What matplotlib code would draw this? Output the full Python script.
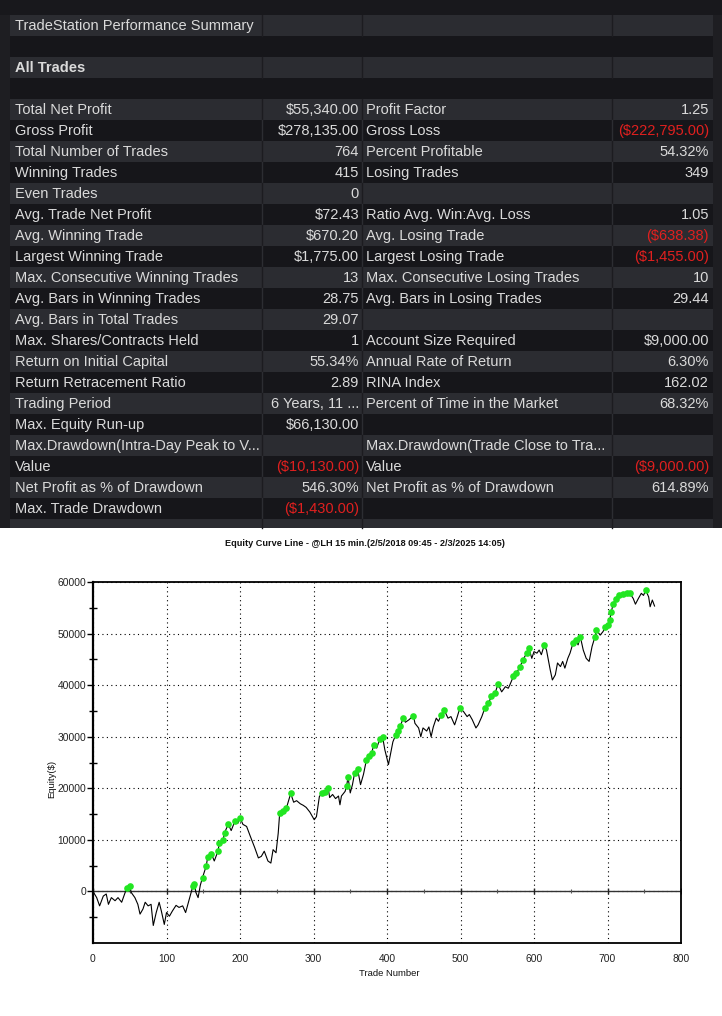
import numpy as np
import matplotlib
matplotlib.use("Agg")
import matplotlib.pyplot as plt
from matplotlib.patches import Rectangle

# ---------------- data ----------------
title_text = "TradeStation Performance Summary"
section_text = "All Trades"

labels_left = ["Total Net Profit", "Gross Profit", "Total Number of Trades", "Winning Trades",
               "Even Trades", "Avg. Trade Net Profit", "Avg. Winning Trade", "Largest Winning Trade",
               "Max. Consecutive Winning Trades", "Avg. Bars in Winning Trades",
               "Avg. Bars in Total Trades", "Max. Shares/Contracts Held", "Return on Initial Capital",
               "Return Retracement Ratio", "Trading Period", "Max. Equity Run-up",
               "Max.Drawdown(Intra-Day Peak to V...", "Value", "Net Profit as % of Drawdown",
               "Max. Trade Drawdown"]
values_left = ["$55,340.00", "$278,135.00", "764", "415", "0", "$72.43", "$670.20", "$1,775.00",
               "13", "28.75", "29.07", "1", "55.34%", "2.89", "6 Years, 11 ...", "$66,130.00",
               "", "($10,130.00)", "546.30%", "($1,430.00)"]
labels_right = ["Profit Factor", "Gross Loss", "Percent Profitable", "Losing Trades", "",
                "Ratio Avg. Win:Avg. Loss", "Avg. Losing Trade", "Largest Losing Trade",
                "Max. Consecutive Losing Trades", "Avg. Bars in Losing Trades", "",
                "Account Size Required", "Annual Rate of Return", "RINA Index",
                "Percent of Time in the Market", "", "Max.Drawdown(Trade Close to Tra...",
                "Value", "Net Profit as % of Drawdown", ""]
values_right = ["1.25", "($222,795.00)", "54.32%", "349", "", "1.05", "($638.38)", "($1,455.00)",
                "10", "29.44", "", "$9,000.00", "6.30%", "162.02", "68.32%", "", "",
                "($9,000.00)", "614.89%", ""]

chart_title = "Equity Curve Line - @LH 15 min.(2/5/2018 09:45 - 2/3/2025 14:05)"

trade_no = [0, 5, 9, 14, 18, 21, 25, 30, 34, 39, 43, 46, 50, 52, 57, 61, 64, 68, 71, 75, 79, 82, 86,
            90, 93, 97, 100, 104, 108, 113, 117, 122, 126, 131, 136, 138, 140, 143, 146, 149, 154,
            156, 161, 165, 170, 172, 177, 179, 184, 188, 193, 197, 200, 204, 209, 214, 220, 225,
            229, 233, 238, 242, 245, 249, 252, 254, 258, 263, 269, 273, 277, 282, 286, 290, 295,
            301, 304, 308, 311, 315, 320, 322, 326, 330, 334, 336, 338, 343, 345, 347, 350, 353,
            356, 360, 364, 368, 372, 376, 379, 382, 386, 390, 394, 397, 402, 405, 408, 412, 415,
            418, 422, 425, 430, 436, 438, 443, 446, 449, 454, 457, 460, 463, 467, 470, 474, 478,
            483, 487, 492, 495, 499, 504, 509, 512, 516, 521, 524, 529, 533, 538, 542, 547, 551,
            556, 561, 565, 567, 572, 576, 581, 585, 590, 593, 597, 600, 604, 607, 610, 614, 617,
            622, 625, 629, 632, 636, 639, 642, 646, 649, 653, 657, 660, 663, 667, 671, 675, 679,
            683, 685, 690, 694, 697, 701, 703, 705, 708, 711, 715, 718, 721, 726, 730, 735, 738,
            742, 746, 749, 752, 756, 758, 761, 764]
equity = [0, -1200, -2800, -900, -500, -2500, -1200, -1800, -1200, -2100, -500, 700, 1000, -200,
          -1200, -2500, -4400, -3400, -2100, -2800, -2500, -6600, -4100, -2100, -3800, -6400,
          -4100, -4800, -3800, -2700, -3100, -2800, -4100, -1500, 1100, 1400, -200, -1200, 1200,
          2700, 4900, 6600, 7300, 5900, 7800, 9400, 10000, 11400, 13000, 11800, 13600, 13200,
          14300, 13000, 12600, 10700, 8500, 6500, 6800, 7800, 5900, 5500, 8100, 7500, 11300,
          15200, 15500, 16100, 19000, 17300, 17600, 17000, 16700, 16300, 15400, 13900, 14500,
          18400, 19000, 19300, 20000, 18200, 18800, 18000, 18500, 16800, 18500, 19400, 20400,
          22200, 19100, 20700, 23000, 23700, 20700, 22700, 25500, 26200, 26800, 28400, 27800,
          29500, 30000, 27500, 24600, 26800, 29000, 30400, 31100, 32000, 33600, 32800, 33300,
          34100, 32600, 31700, 30000, 31700, 31100, 31900, 30000, 31900, 33600, 33000, 34300,
          35100, 33600, 33900, 32300, 33600, 35500, 34900, 33900, 34300, 33300, 31700, 32300,
          33900, 35500, 36500, 37800, 38400, 40200, 38700, 39700, 39400, 40000, 41700, 42300,
          43600, 44900, 46200, 47200, 45200, 46500, 46200, 46800, 45900, 47800, 46800, 43000,
          41000, 42000, 44300, 43600, 44600, 43300, 45200, 46200, 48100, 48700, 47800, 49400,
          46800, 45200, 44600, 47500, 49400, 50700, 49700, 50400, 51300, 51700, 52600, 54200,
          55800, 56800, 57500, 57100, 57700, 57800, 57900, 56800, 55700, 56800, 57800, 57400,
          58400, 57100, 55200, 56500, 55340]

x_ticks = [0, 100, 200, 300, 400, 500, 600, 700, 800]
y_ticks = [0, 10000, 20000, 30000, 40000, 50000, 60000]

# ---------------- figure ----------------
W, H = 722, 1016
fig = plt.figure(figsize=(W / 100, H / 100), dpi=100)
fig.patch.set_facecolor("white")

bg = fig.add_axes([0, 0, 1, 1])
bg.set_xlim(0, W)
bg.set_ylim(H, 0)
bg.axis("off")

FONT = ["Liberation Sans", "DejaVu Sans"]
DARK_BG = "#1e1e22"
LIGHT_ROW = "#2b2c31"
DARK_ROW = "#16161a"
TXT = "#dadada"
RED = "#e0201f"

table_bottom = 528
bg.add_patch(Rectangle((0, 0), W, table_bottom, color=DARK_BG, lw=0, zorder=0))
bg.add_patch(Rectangle((0, 0), W, 15, color="#18181c", lw=0, zorder=0.5))

x0, x1, x2, x3, x4 = 10, 262, 362, 612, 713
row_h = 21
top0 = 15
n_rows = 4 + len(labels_left) + 1
for i in range(n_rows):
    y = top0 + i * row_h
    h = min(row_h, table_bottom - y)
    col = LIGHT_ROW if i % 2 == 0 else DARK_ROW
    bg.add_patch(Rectangle((x0, y), x4 - x0, h, color=col, lw=0, zorder=1))
    sep = "#1c1c20" if i % 2 == 0 else "#2c2d32"
    for xs in (x1, x2, x3):
        if i in (1, 3):
            continue
        bg.plot([xs, xs], [y, y + h], color=sep, lw=1, zorder=2)

fs = 10.5

def row_center(i):
    return top0 + i * row_h + row_h / 2 + 0.8

bg.text(x0 + 5, row_center(0), title_text, color=TXT, fontsize=fs, va="center", ha="left",
        family=FONT, zorder=3)
bg.text(x0 + 5, row_center(2), section_text, color=TXT, fontsize=fs, va="center", ha="left",
        family=FONT, fontweight="bold", zorder=3)

for k in range(len(labels_left)):
    r = 4 + k
    yc = row_center(r)
    bg.text(x0 + 5, yc, labels_left[k], color=TXT, fontsize=fs, va="center", ha="left",
            family=FONT, zorder=3)
    v = values_left[k]
    bg.text(x2 - 3, yc, v, color=RED if v.startswith("(") else TXT, fontsize=fs,
            va="center", ha="right", family=FONT, zorder=3)
    bg.text(x2 + 4, yc, labels_right[k], color=TXT, fontsize=fs, va="center", ha="left",
            family=FONT, zorder=3)
    v = values_right[k]
    bg.text(x4 - 4, yc, v, color=RED if v.startswith("(") else TXT, fontsize=fs,
            va="center", ha="right", family=FONT, zorder=3)

# ---------------- chart ----------------
L, R, T, B = 93, 681, 582, 943
ax = fig.add_axes([L / W, 1 - B / H, (R - L) / W, (B - T) / H])
ax.set_xlim(0, 800)
ax.set_ylim(-10000, 60000)

tr = np.array(trade_no)
eq = np.array(equity)
running_max = np.maximum.accumulate(eq)
is_high = (eq >= running_max) & (eq > 0)

ax.set_xticks(x_ticks)
ax.set_yticks(y_ticks)
ax.set_yticks(np.arange(-5000, 60000, 10000), minor=True)
ax.grid(True, which="major", color="black", linestyle=(0, (1, 3)), lw=0.8)
ax.set_axisbelow(True)

ax.axhline(0, color="#333333", lw=1.0, zorder=2)
ax.plot(np.arange(0, 801, 100), np.zeros(9), linestyle="none", marker="|", ms=5,
        mew=1.0, color="#222222", zorder=2)
ax.plot(np.arange(50, 800, 100), np.zeros(8), linestyle="none", marker="|", ms=3,
        mew=0.8, color="#555555", zorder=2)

ax.plot(tr, eq, color="black", lw=0.8, zorder=3)
ax.plot(tr[is_high], eq[is_high], linestyle="none", marker="o", ms=4.8, mew=0,
        color="#22e622", zorder=4)

for s in ax.spines.values():
    s.set_color("black")
    s.set_linewidth(1.3)
ax.spines["left"].set_linewidth(1.6)

ax.tick_params(axis="x", which="both", length=0, pad=8, labelsize=7.4, labelcolor="#222222")
ax.tick_params(axis="y", which="major", direction="out", length=4, width=1, pad=1,
               labelsize=7.4, labelcolor="#222222")
ax.tick_params(axis="y", which="minor", direction="inout", length=6, width=1)
for lab in ax.get_xticklabels() + ax.get_yticklabels():
    lab.set_family(FONT)

fig.text(365 / W, 1 - 544 / H, chart_title, ha="center", va="center", fontsize=6.6,
         fontweight="bold", family=FONT, color="#111111")
fig.text(389 / W, 1 - 973 / H, "Trade Number", ha="center", va="center", fontsize=6.8,
         family=FONT, color="#111111")
fig.text(52 / W, 1 - 779 / H, "Equity($)", ha="center", va="center", rotation=90,
         fontsize=6.8, family=FONT, color="#111111")

fig.savefig("out.png", dpi=100, facecolor="white")
